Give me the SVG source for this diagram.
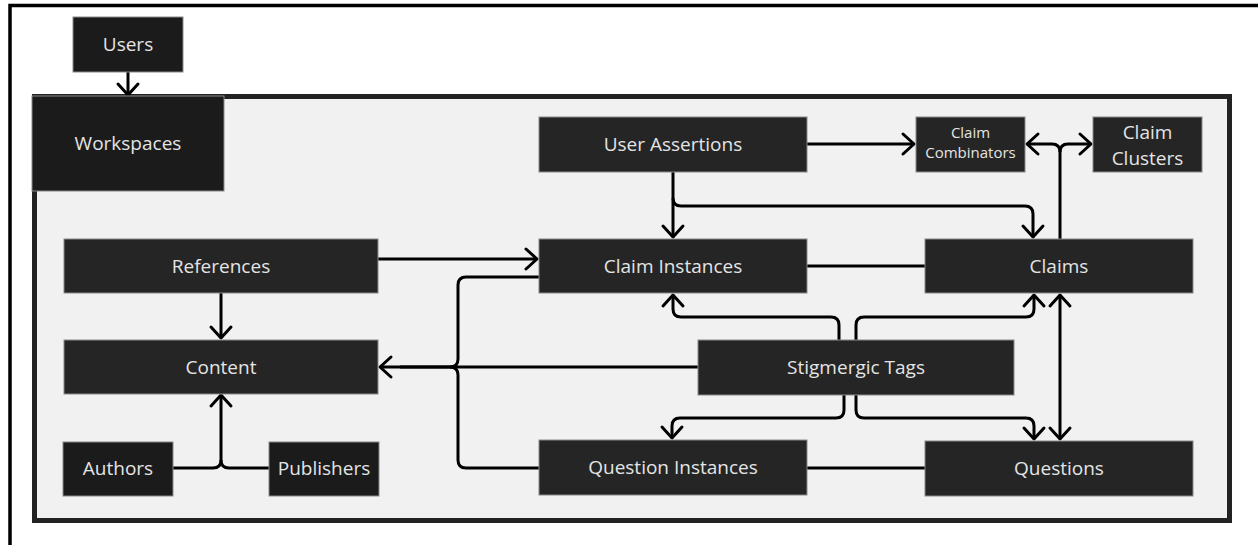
<svg xmlns="http://www.w3.org/2000/svg" width="1258" height="545" viewBox="0 0 1258 545">
<style>
.node{fill:#252525;stroke:#8a8a8a;stroke-width:1}
.dark{fill:#1b1b1b}
.t{font-family:"Open Sans","Noto Sans",sans-serif;font-size:19px;fill:#e4e4e4;text-anchor:middle}
.s{font-size:15px}
.c{fill:none;stroke:#000;stroke-width:3;stroke-linejoin:round}
.a{marker-end:url(#arr)}
</style>
<defs>
<marker id="arr" markerUnits="userSpaceOnUse" viewBox="-14 -13 17 26" markerWidth="17" markerHeight="26" refX="0" refY="0" orient="auto-start-reverse">
<path d="M-11,-10 L0,0 L-11,10" fill="none" stroke="#000" stroke-width="3" stroke-linejoin="round" stroke-linecap="round"/>
</marker>
</defs>
<rect width="1258" height="545" fill="#fff"/>
<path d="M10,545 V5.5 H1258" fill="none" stroke="#000" stroke-width="3.5"/>
<rect x="34.5" y="96.5" width="1195" height="424" fill="#f1f1f1" stroke="#222" stroke-width="5"/>

<g id="connectors">
<path class="c a" d="M128,72 V95"/>
<path class="c a" d="M807,144 H914"/>
<path class="c a" d="M673,172 V237"/>
<path class="c a" d="M673,198 Q673,206 681,206 H1025 Q1033,206 1033,214 V237"/>
<path class="c a" d="M1060,239 V152 Q1060,144 1052,144 H1027"/>
<path class="c a" d="M1060,152 Q1060,144 1068,144 H1091"/>
<path class="c a" d="M378,259 H537"/>
<path class="c a" d="M539,277 H466 Q458,277 458,285 V359 Q458,367 450,367 H380"/>
<path class="c" d="M539,468 H466 Q458,468 458,460 V375 Q458,367 450,367"/>
<path class="c" d="M698,367 H400"/>
<path class="c" d="M807,266 H925"/>
<path class="c" d="M807,468 H925"/>
<path class="c a" d="M839,340 V325 Q839,317 831,317 H681 Q673,317 673,309 V295"/>
<path class="c a" d="M856,340 V325 Q856,317 864,317 H1026 Q1034,317 1034,309 V295"/>
<path class="c a" d="M844,395 V410 Q844,418 836,418 H680 Q672,418 672,426 V438"/>
<path class="c a" d="M856,395 V410 Q856,418 864,418 H1026 Q1034,418 1034,426 V439"/>
<path class="c a" d="M1060,295 V439" marker-start="url(#arr)"/>
<path class="c a" d="M221,293 V338"/>
<path class="c a" d="M173,468 H213 Q221,468 221,460 V395"/>
<path class="c" d="M269,468 H229 Q221,468 221,460"/>
</g>

<g id="users"><rect class="node dark" x="73" y="17" width="110" height="55"/><text class="t" x="128" y="51">Users</text></g>
<g id="workspaces"><rect class="node dark" x="32" y="96" width="192" height="95" stroke="none"/><text class="t" x="128" y="150">Workspaces</text></g>
<g id="user-assertions"><rect class="node" x="539" y="117" width="268" height="55"/><text class="t" x="673" y="151">User Assertions</text></g>
<g id="claim-combinators"><rect class="node" x="916" y="117" width="109" height="55"/><text class="t s" x="970.5" y="138">Claim</text><text class="t s" x="970.5" y="158">Combinators</text></g>
<g id="claim-clusters"><rect class="node" x="1093" y="117" width="109" height="55"/><text class="t" x="1147.5" y="139">Claim</text><text class="t" x="1147.5" y="165">Clusters</text></g>
<g id="references"><rect class="node" x="64" y="239" width="314" height="54"/><text class="t" x="221" y="273">References</text></g>
<g id="claim-instances"><rect class="node" x="539" y="239" width="268" height="54"/><text class="t" x="673" y="273">Claim Instances</text></g>
<g id="claims"><rect class="node" x="925" y="239" width="268" height="54"/><text class="t" x="1059" y="273">Claims</text></g>
<g id="content"><rect class="node" x="64" y="340" width="314" height="54"/><text class="t" x="221" y="374">Content</text></g>
<g id="stigmergic-tags"><rect class="node" x="698" y="340" width="316" height="55"/><text class="t" x="856" y="374">Stigmergic Tags</text></g>
<g id="authors"><rect class="node dark" x="63" y="442" width="110" height="54"/><text class="t" x="118" y="475">Authors</text></g>
<g id="publishers"><rect class="node dark" x="269" y="442" width="110" height="54"/><text class="t" x="324" y="475">Publishers</text></g>
<g id="question-instances"><rect class="node" x="539" y="440" width="268" height="55"/><text class="t" x="673" y="474">Question Instances</text></g>
<g id="questions"><rect class="node" x="925" y="441" width="268" height="55"/><text class="t" x="1059" y="475">Questions</text></g>
</svg>
